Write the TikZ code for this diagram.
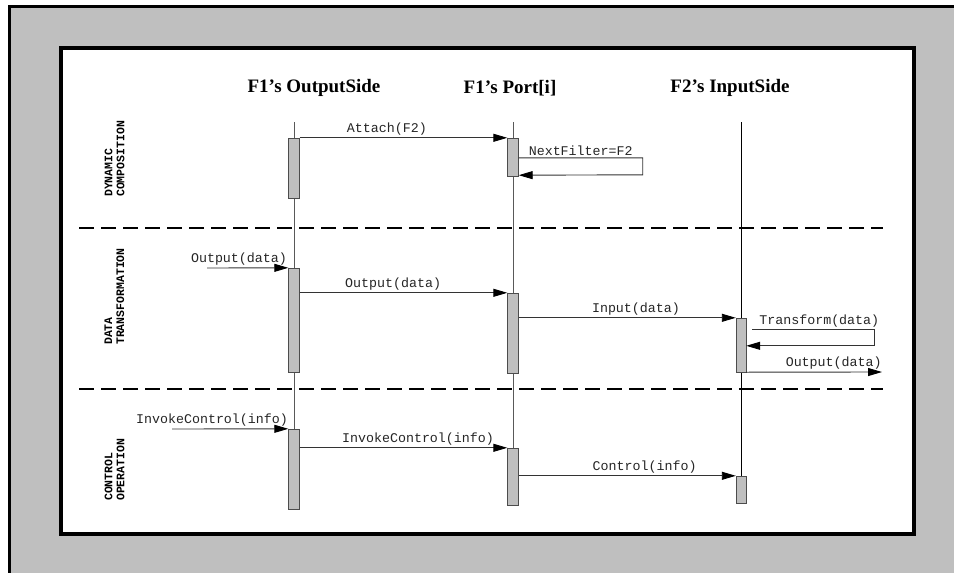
\documentclass[tikz,border=0pt]{standalone}
\usepackage{fontspec}
\setmainfont{Liberation Serif}
\setmonofont{Liberation Mono}
\usetikzlibrary{arrows.meta}

\begin{document}
\begin{tikzpicture}[x=1pt,y=-1pt,
  bar/.style={draw=black!70,fill=black!25,minimum width=11pt,inner sep=0pt},
  life/.style={draw=black!65,line width=0.9pt},
  msg/.style={draw=black!80,line width=0.9pt,-{Triangle[length=14pt,width=8pt,black]}},
  lbl/.style={font=\fontsize{13.3}{14}\selectfont\ttfamily,text=black!85,inner sep=2pt},
  head/.style={font=\fontsize{19}{20}\selectfont\bfseries},
  part/.style={font=\fontsize{11.5}{12}\selectfont\ttfamily\bfseries,rotate=90,anchor=west,align=left,inner sep=0pt},
  sep/.style={line width=1.4pt,dash pattern=on 15pt off 7pt}]
\useasboundingbox (0,0) rectangle (954,573);
% frames
\draw[line width=3pt,fill=black!25] (9.5,6.5) rectangle (980,600);
\draw[line width=4pt,fill=white] (61,48) rectangle (914,534);

% heads
\node[head] (hout) at (314,88) {F1's OutputSide};
\node[head] (hport) at (510,88) {F1's Port[i]};
\node[head] (hin) at (730,88) {F2's InputSide};

% lifelines
\coordinate (otop) at (294,122); \coordinate (obot) at (294,509);
\coordinate (ptop) at (513,122); \coordinate (pbot) at (513,505);
\coordinate (itop) at (741,122); \coordinate (ibot) at (741,503);
\draw[life] (otop) -- (obot);
\draw[life] (ptop) -- (pbot);
\draw[life,draw=black] (itop) -- (ibot);

% activations
\node[bar,minimum height=60pt] (ob1) at (294,168) {};
\node[bar,minimum height=38pt] (pb1) at (513,157) {};
\node[bar,minimum height=104pt] (ob2) at (294,320) {};
\node[bar,minimum height=80pt] (pb2) at (513,333) {};
\node[bar,minimum height=54pt,minimum width=10pt] (ib1) at (741,345) {};
\node[bar,minimum height=80pt] (ob3) at (294,469) {};
\node[bar,minimum height=57pt] (pb3) at (513,476.5) {};
\node[bar,minimum height=27pt,minimum width=10pt] (ib2) at (741,489.5) {};

% phase separators
\coordinate (s1a) at (79,228); \coordinate (s1b) at (883,228);
\coordinate (s2a) at (79,389); \coordinate (s2b) at (883,389);
\draw[sep] (s1a) -- (s1b);
\draw[sep] (s2a) -- (s2b);

% phase names
\node[part] (pdyn) at (114.5,197) {DYNAMIC\\COMPOSITION};
\node[part] (pdat) at (114.5,345) {DATA\\TRANSFORMATION};
\node[part] (pctl) at (114.5,501) {CONTROL\\OPERATION};

% dynamic composition
\draw[msg] (ob1.north east) -- node[lbl,above,pos=0.42]{Attach(F2)} (pb1.north west);
\draw[msg] ([yshift=-20pt]pb1.north east) -- node[lbl,above]{NextFilter=F2} ++(124,0)
  -- ++(0,17) -- ([yshift=1pt]pb1.south east);

% data transformation
\coordinate (oin) at (207,268);
\draw[msg] (oin) -- (ob2.north west) node[lbl,above left,inner xsep=1pt]{Output(data)};
\draw[msg] (ob2.east |- pb2.north) -- node[lbl,above,pos=0.45]{Output(data)} (pb2.north west);
\draw[msg] (pb2.east |- ib1.north) -- node[lbl,above,pos=0.54]{Input(data)} (ib1.north west);
\draw[msg] ([xshift=6pt,yshift=-12pt]ib1.north east) -- node[lbl,above,pos=0.55]{Transform(data)} ++(122,0)
  -- ++(0,16) -- ([yshift=-28pt]ib1.north east);
\coordinate (oend) at (882,372);
\draw[msg] (ib1.south east) -- (oend) node[lbl,above left,inner xsep=0pt]{Output(data)};

% control operation
\coordinate (cin) at (172,429);
\draw[msg] (cin) -- (ob3.north west) node[lbl,above left,inner xsep=0pt]{InvokeControl(info)};
\draw[msg] (ob3.east |- pb3.north) -- node[lbl,above,pos=0.57]{InvokeControl(info)} (pb3.north west);
\draw[msg] (pb3.east |- ib2.north) -- node[lbl,above,pos=0.58]{Control(info)} (ib2.north west);
\end{tikzpicture}
\end{document}
